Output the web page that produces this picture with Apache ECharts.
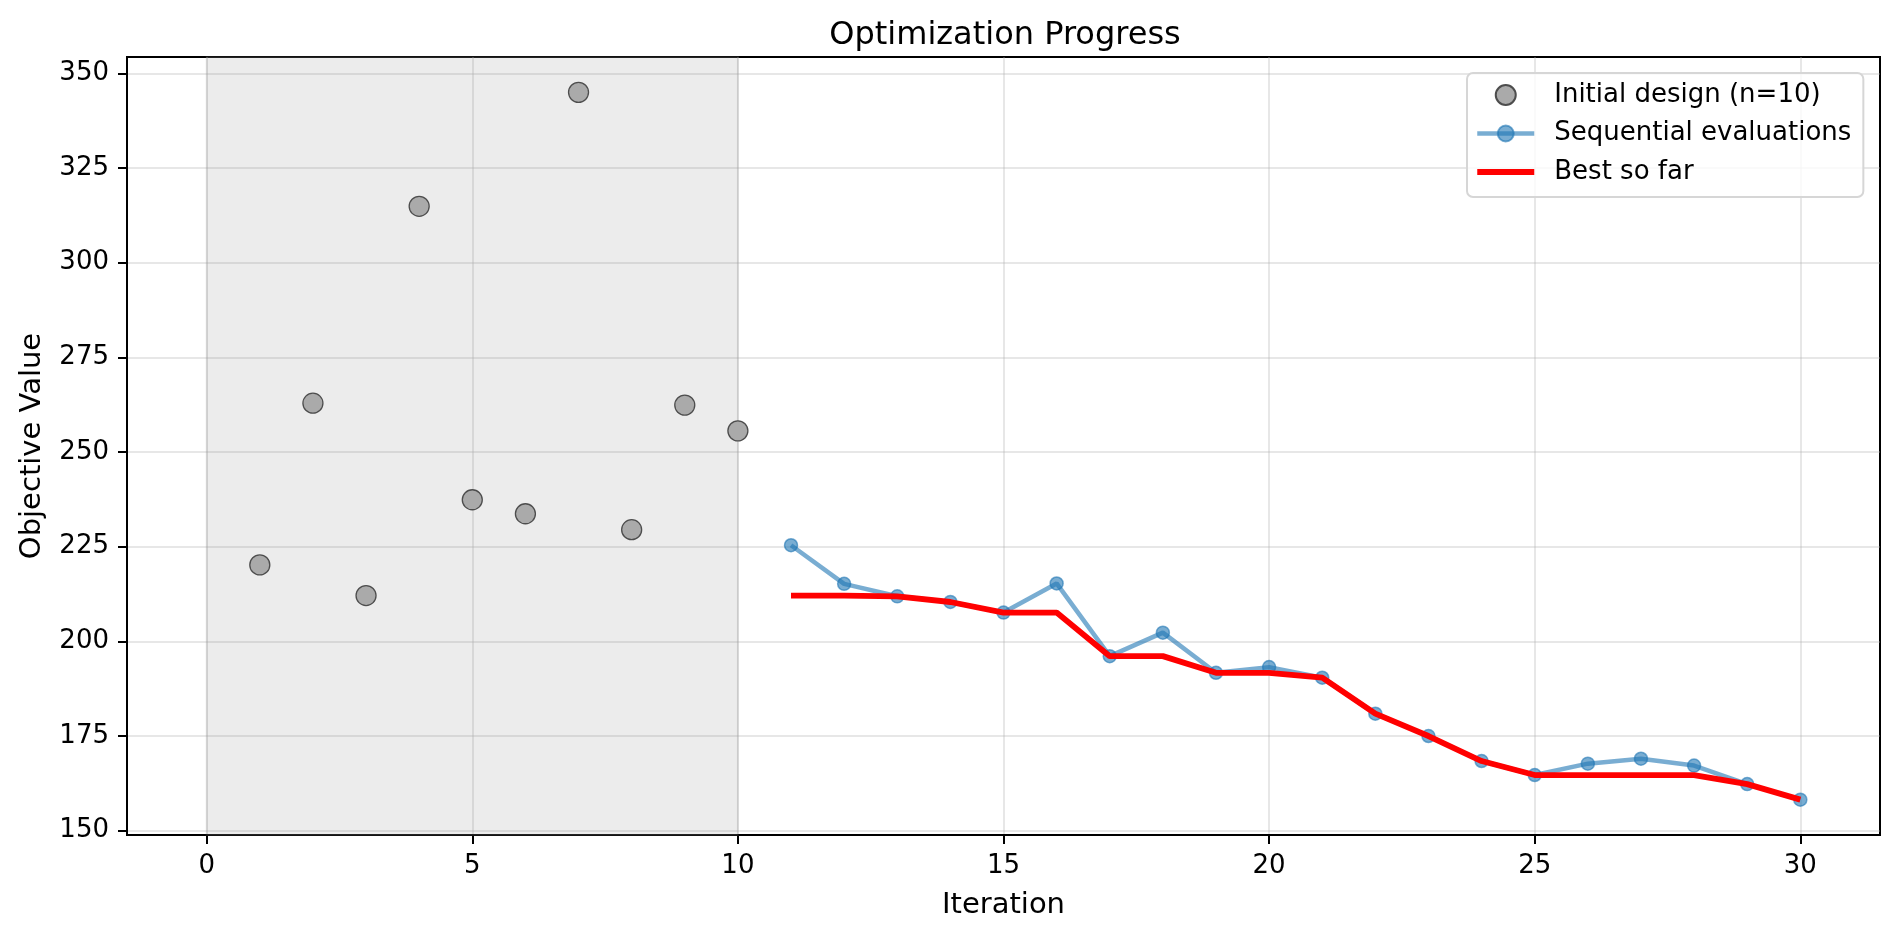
<!DOCTYPE html>
<html>
<head>
<meta charset="utf-8">
<script src="https://cdn.jsdelivr.net/npm/echarts@6/dist/echarts.min.js"></script>
<style>
html,body{margin:0;padding:0;background:#fff;}
#chart{width:1898px;height:938px;}
</style>
</head>
<body>
<div id="chart"></div>
<script>
// ---- data ----
const initialX = [1, 2, 3, 4, 5, 6, 7, 8, 9, 10];
const initialY = [220.2, 262.9, 212.1, 314.9, 237.4, 233.7, 345.0, 229.5, 262.4, 255.6];
const seqX = [11, 12, 13, 14, 15, 16, 17, 18, 19, 20, 21, 22, 23, 24, 25, 26, 27, 28, 29, 30];
const seqY = [225.4, 215.2, 211.9, 210.4, 207.6, 215.3, 196.1, 202.3, 191.7, 193.2, 190.4, 180.9, 175.0, 168.4, 164.7, 167.7, 169.0, 167.2, 162.3, 158.2];
const bestY = [212.1, 212.1, 211.9, 210.4, 207.6, 207.6, 196.1, 196.1, 191.7, 191.7, 190.4, 180.9, 175.0, 168.4, 164.7, 164.7, 164.7, 164.7, 162.3, 158.2];
const initialSpan = [0, 10];
const xTicks = [0, 5, 10, 15, 20, 25, 30];
const yTicks = [150, 175, 200, 225, 250, 275, 300, 325, 350];
const titleText = 'Optimization Progress';
const xName = 'Iteration';
const yName = 'Objective Value';
const legendNames = ['Initial design (n=10)', 'Sequential evaluations', 'Best so far'];

// axis limits like matplotlib autoscale (5% margins)
const allY = initialY.concat(seqY, bestY);
const yLo = Math.min(...allY), yHi = Math.max(...allY);
const yPad = (yHi - yLo) * 0.05;
const xLo = Math.min(initialSpan[0], ...initialX, ...seqX), xHi = Math.max(initialSpan[1], ...initialX, ...seqX);
const xPad = (xHi - xLo) * 0.05;

const FONT = 'DejaVu Sans';
const chart = echarts.init(document.getElementById('chart'), null, {renderer: 'canvas'});
const blue = 'rgba(31,119,180,0.6)';

chart.setOption({
  animation: false,
  backgroundColor: '#ffffff',
  title: {
    text: titleText,
    left: 1000,
    top: 15,
    textAlign: 'center',
    textStyle: {fontFamily: FONT, fontSize: 32, fontWeight: 'normal', color: '#000'}
  },
  legend: {
    orient: 'vertical',
    left: 1467,
    top: 73,
    itemWidth: 57,
    itemHeight: 20,
    itemGap: 12.5,
    padding: [9, 12, 12, 8],
    backgroundColor: 'rgba(255,255,255,0.8)',
    borderColor: '#d6d6d6',
    borderWidth: 2,
    borderRadius: 6,
    selectedMode: false,
    lineStyle: {width: 'inherit'},
    textStyle: {fontFamily: FONT, fontSize: 26, lineHeight: 26, color: '#000', padding: [0, 0, 0, 15]},
    data: [
      {name: legendNames[0]},
      {name: legendNames[1]},
      {name: legendNames[2], icon: 'path://M0,0L57,0L57,6L0,6Z', itemStyle: {color: '#ff0000'}}
    ]
  },
  grid: {
    left: 127, right: 18, top: 57, bottom: 103,
    show: true, borderColor: '#000', borderWidth: 2, backgroundColor: 'transparent'
  },
  xAxis: {
    type: 'value',
    min: xLo - xPad,
    max: xHi + xPad,
    name: xName,
    nameLocation: 'middle',
    nameGap: 56,
    nameTextStyle: {fontFamily: FONT, fontSize: 29, color: '#000'},
    axisLine: {show: true, onZero: false, lineStyle: {color: '#000', width: 2}},
    axisTick: {show: true, length: 9, lineStyle: {color: '#000', width: 2}, customValues: xTicks},
    axisLabel: {fontFamily: FONT, fontSize: 26, color: '#000', margin: 18, customValues: xTicks},
    splitLine: {show: true, lineStyle: {color: 'rgba(176,176,176,0.3)', width: 2}}
  },
  yAxis: {
    type: 'value',
    min: yLo - yPad,
    max: yHi + yPad,
    name: yName,
    nameLocation: 'middle',
    nameGap: 80,
    nameTextStyle: {fontFamily: FONT, fontSize: 29, color: '#000'},
    axisLine: {show: true, onZero: false, lineStyle: {color: '#000', width: 2}},
    axisTick: {show: true, length: 9, lineStyle: {color: '#000', width: 2}, customValues: yTicks},
    axisLabel: {fontFamily: FONT, fontSize: 26, color: '#000', margin: 18, customValues: yTicks},
    splitLine: {show: true, lineStyle: {color: 'rgba(176,176,176,0.3)', width: 2}}
  },
  series: [
    {
      name: legendNames[0],
      type: 'scatter',
      z: 3,
      symbol: 'circle',
      symbolSize: 20,
      itemStyle: {color: '#aaaaaa', borderColor: '#4d4d4d', borderWidth: 1.3, opacity: 1},
      data: initialX.map((x, i) => [x, initialY[i]]),
      markArea: {
        silent: true,
        itemStyle: {color: 'rgba(128,128,128,0.15)', borderColor: 'rgba(128,128,128,0.15)', borderWidth: 2},
        data: [[{xAxis: initialSpan[0]}, {xAxis: initialSpan[1]}]]
      }
    },
    {
      name: legendNames[1],
      type: 'line',
      z: 4,
      symbol: 'circle',
      symbolSize: 13,
      showSymbol: true,
      lineStyle: {color: blue, width: 4.5},
      itemStyle: {color: blue, borderColor: blue, borderWidth: 1.5},
      data: seqX.map((x, i) => [x, seqY[i]])
    },
    {
      name: legendNames[2],
      type: 'line',
      z: 5,
      symbol: 'none',
      lineStyle: {color: '#ff0000', width: 5.8},
      itemStyle: {color: '#ff0000'},
      data: seqX.map((x, i) => [x, bestY[i]])
    }
  ]
});
</script>
</body>
</html>
